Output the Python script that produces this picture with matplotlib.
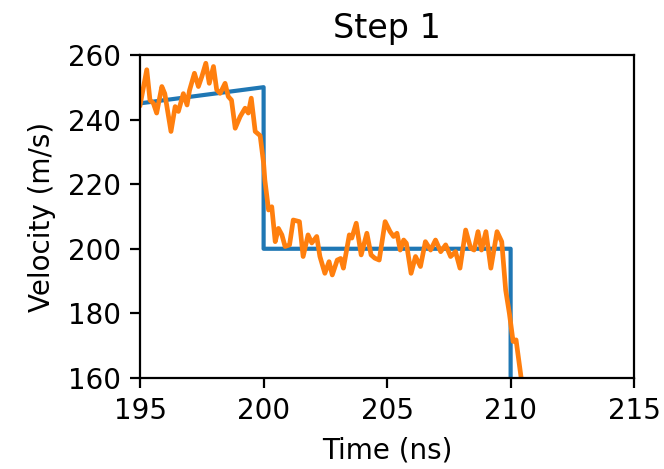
import matplotlib
matplotlib.use('Agg')
import matplotlib.pyplot as plt

# reference velocity profile (piecewise)
ref_t = [195.0, 200.0, 200.0, 210.0, 210.0]
ref_v = [245.0, 250.0, 200.0, 200.0, 140.0]

# measured velocity
meas_t = [195.0, 195.04, 195.27, 195.4, 195.54, 195.67, 195.88, 196.0, 196.25, 196.42,
          196.55, 196.75, 196.9, 197.0, 197.2, 197.36, 197.5, 197.66, 197.8, 197.97,
          198.1, 198.24, 198.44, 198.57, 198.7, 198.85, 199.05, 199.25, 199.38, 199.5,
          199.66, 199.86, 200.0, 200.05, 200.2, 200.33, 200.47, 200.6, 200.74, 200.87,
          201.05, 201.2, 201.45, 201.6, 201.8, 201.95, 202.15, 202.28, 202.48, 202.65,
          202.78, 202.98, 203.12, 203.23, 203.47, 203.57, 203.75, 203.95, 204.18, 204.35,
          204.5, 204.68, 204.92, 205.12, 205.26, 205.4, 205.53, 205.67, 205.78, 205.97,
          206.15, 206.35, 206.55, 206.76, 206.96, 207.17, 207.37, 207.57, 207.77, 207.95,
          208.18, 208.38, 208.52, 208.68, 208.82, 209.0, 209.2, 209.45, 209.64, 209.8,
          209.95, 210.1, 210.22, 210.42, 210.5]
meas_v = [244.5, 246.1, 255.4, 246.0, 245.0, 242.0, 250.2, 248.0, 236.3, 244.0,
          242.5, 248.0, 244.5, 249.0, 254.3, 250.2, 253.3, 257.4, 251.2, 256.4,
          249.2, 248.1, 251.2, 247.1, 246.0, 237.3, 240.9, 243.5, 242.0, 246.6,
          236.3, 235.0, 226.5, 221.3, 212.0, 213.0, 202.2, 206.3, 204.3, 200.7,
          201.2, 208.9, 208.4, 197.6, 204.3, 201.8, 203.8, 197.6, 192.4, 196.0,
          191.9, 196.5, 197.0, 194.0, 204.3, 203.3, 207.9, 198.1, 204.8, 198.1,
          197.1, 196.5, 208.4, 205.3, 203.8, 204.8, 199.6, 202.7, 201.7, 192.4,
          197.6, 194.5, 202.2, 199.6, 202.7, 199.1, 201.2, 197.6, 199.1, 194.0,
          205.8, 200.2, 199.6, 205.3, 199.6, 205.3, 194.0, 205.3, 202.2, 187.2,
          180.0, 171.3, 171.8, 160.4, 155.0]

plt.rcParams['font.size'] = 10

fig = plt.figure(figsize=(3.32, 2.345), dpi=200)
ax = fig.add_axes([0.211, 0.194, 0.744, 0.689])
ax.plot(ref_t, ref_v)
ax.plot(meas_t, meas_v, lw=1.7)
ax.set_xlim(195, 215)
ax.set_ylim(160, 260)
ax.set_xticks([195, 200, 205, 210, 215])
ax.set_yticks([160, 180, 200, 220, 240, 260])
ax.set_xlabel('Time (ns)')
ax.set_ylabel('Velocity (m/s)')
ax.set_title('Step 1')
fig.savefig('out.png', dpi=200)
